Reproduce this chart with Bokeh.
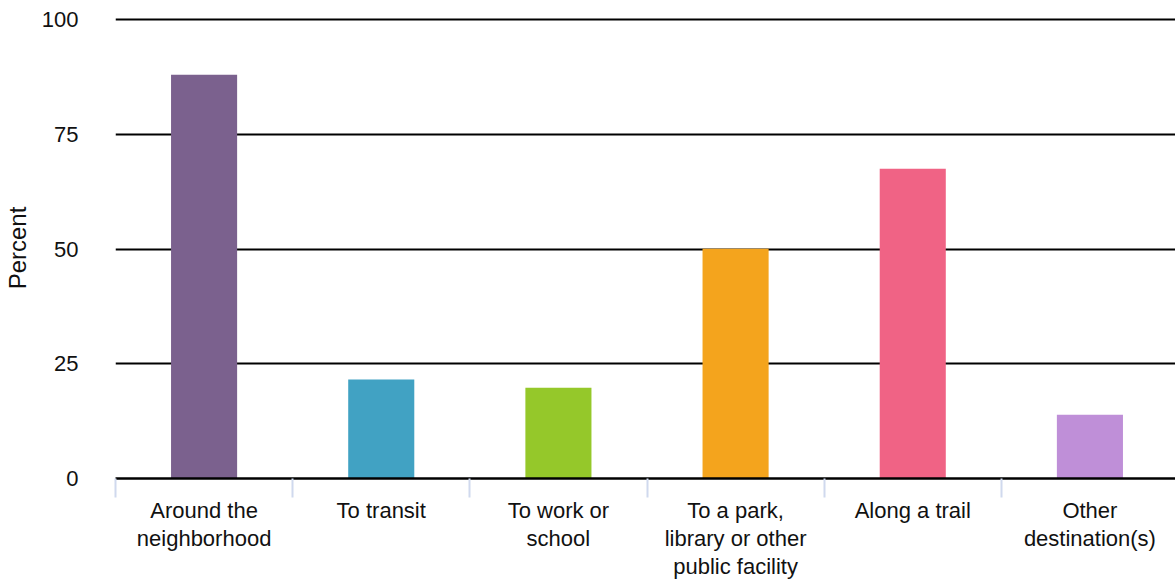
from bokeh.plotting import figure
from bokeh.models import ColumnDataSource, Range1d, LinearAxis, FixedTicker
from bokeh.embed import file_html
from bokeh.resources import INLINE

categories = ["Around the neighborhood", "To transit", "To work or school",
              "To a park, library or other public facility", "Along a trail",
              "Other destination(s)"]
tick_labels = ["Around the\nneighborhood", "To transit", "To work or\nschool",
               "To a park,\nlibrary or other\npublic facility", "Along a trail",
               "Other\ndestination(s)"]
percent = [88.0, 21.6, 19.8, 50.1, 67.5, 13.9]
colors = ["#7B618E", "#41A2C3", "#95C82A", "#F4A41D", "#F06385", "#BF8FD8"]
y_ticks = [0, 25, 50, 75, 100]

FONT = "Liberation Sans"
n = len(categories)
centers = [i + 0.5 for i in range(n)]
bounds = list(range(n))

src = ColumnDataSource(dict(x=centers, cat=categories, pct=percent, color=colors))

p = figure(frame_width=1063, frame_height=461,
           x_range=Range1d(0, n), y_range=Range1d(0, 100.5),
           output_backend="svg", toolbar_location=None, x_axis_location=None,
           min_border_left=108, min_border_right=0, min_border_top=17,
           min_border_bottom=0)
p.outline_line_color = None
p.background_fill_color = "white"
p.xgrid.grid_line_color = None

p.vbar(x="x", top="pct", width=0.373, color="color", line_color=None, source=src)

# y axis
p.yaxis.ticker = FixedTicker(ticks=y_ticks)
p.yaxis.axis_line_color = None
p.yaxis.major_tick_line_color = None
p.yaxis.minor_tick_line_color = None
p.yaxis.major_label_standoff = 31
p.yaxis.major_label_text_font = FONT
p.yaxis.major_label_text_font_size = "22px"
p.yaxis.major_label_text_color = "#111111"
p.yaxis.axis_label = "Percent"
p.yaxis.axis_label_text_font = FONT
p.yaxis.axis_label_text_font_size = "24px"
p.yaxis.axis_label_text_font_style = "normal"
p.yaxis.axis_label_text_color = "#111111"
p.yaxis.axis_label_standoff = 8

p.ygrid.ticker = FixedTicker(ticks=y_ticks)
p.ygrid.grid_line_color = "black"
p.ygrid.grid_line_width = 2

# category axis: labels at centres, short ticks at the slot boundaries
cat_axis = LinearAxis(ticker=FixedTicker(ticks=centers, minor_ticks=bounds),
                      major_label_overrides=dict(zip(centers, tick_labels)),
                      axis_line_color="black", axis_line_width=2.5,
                      major_tick_line_color=None, major_tick_in=0, major_tick_out=19,
                      minor_tick_line_color="#D0D9EE", minor_tick_line_width=2,
                      minor_tick_in=0, minor_tick_out=19,
                      major_label_standoff=0,
                      major_label_text_font=FONT,
                      major_label_text_font_size="22px",
                      major_label_text_color="#111111",
                      major_label_text_line_height=1.13)
p.add_layout(cat_axis, "below")

open("out.html", "w").write(file_html(p, INLINE))
